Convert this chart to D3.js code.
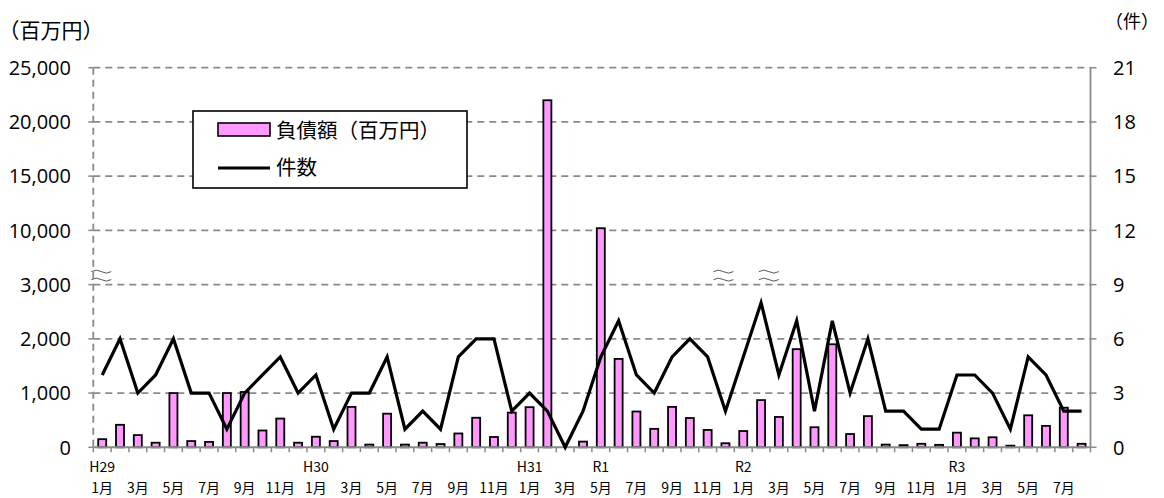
<!DOCTYPE html>
<html>
<head>
<meta charset="utf-8">
<script src="https://cdn.jsdelivr.net/npm/d3@7"></script>
<style>
  body { margin: 0; background: #fff; }
  svg { display: block; }
</style>
</head>
<body>
<svg id="chart" width="1164" height="498"></svg>
<script>
// months H29.1 - R3.8
let months = [
  "1月","2月","3月","4月","5月","6月","7月","8月","9月","10月","11月","12月",
  "1月","2月","3月","4月","5月","6月","7月","8月","9月","10月","11月","12月",
  "1月","2月","3月","4月","5月","6月","7月","8月","9月","10月","11月","12月",
  "1月","2月","3月","4月","5月","6月","7月","8月","9月","10月","11月","12月",
  "1月","2月","3月","4月","5月","6月","7月","8月"
]
let eraLabels = ["H29", "H30", "H31", "R1", "R2", "R3"]
let eraIndex = [0, 12, 24, 28, 36, 48]

// 負債額 (百万円)
let amounts = [
  150, 415, 225, 85, 1000, 115, 100, 1000, 1020, 310, 530, 85,
  195, 115, 745, 50, 620, 50, 85, 60, 255, 545, 190, 640,
  740, 22000, 0, 105, 10200, 1630, 660, 340, 745, 540, 320, 75,
  300, 870, 560, 1810, 370, 1900, 245, 575, 50, 40, 65, 45,
  270, 165, 185, 30, 590, 395, 730, 65
]
// 件数
let counts = [
  4, 6, 3, 4, 6, 3, 3, 1, 3, 4, 5, 3,
  4, 1, 3, 3, 5, 1, 2, 1, 5, 6, 6, 2,
  3, 2, 0, 2, 5, 7, 4, 3, 5, 6, 5, 2,
  5, 8, 4, 7, 2, 7, 3, 6, 2, 2, 1, 1,
  4, 4, 3, 1, 5, 4, 2, 2
]

let leftTicks = [0, 1000, 2000, 3000, 10000, 15000, 20000, 25000]
let rightTicks = [0, 3, 6, 9, 12, 15, 18, 21]

let svg = d3.select("#chart")

let plotLeft = 93.3, plotRight = 1090.5, plotTop = 67.7, plotBottom = 447.3
let gridCol = "#8a8a8a"

let x = d3.scaleBand()
  .domain(d3.range(months.length))
  .range([plotLeft, plotRight])
  .paddingInner(0.55)
  .paddingOuter(0.275)

let yR = d3.scaleLinear().domain([0, 21]).range([plotBottom, plotTop])
// broken left axis: 0-3000 linear, then 3000->10000, then 5000 per step
let yL = d3.scaleLinear()
  .domain([0, 3000, 10000, 25000])
  .range([yR(0), yR(9), yR(12), yR(21)])

let jp = "'Noto Sans CJK JP', sans-serif"
let num = "'Open Sans', sans-serif"

// gridlines
svg.append("g")
  .selectAll("line")
  .data(leftTicks.filter(d => d > 0))
  .enter()
  .append("line")
  .attr("x1", plotLeft).attr("x2", plotRight)
  .attr("y1", d => yL(d)).attr("y2", d => yL(d))
  .attr("stroke", gridCol)
  .attr("stroke-width", 1.8)
  .attr("stroke-dasharray", "7,5")

// left axis (dashed)
svg.append("line")
  .attr("x1", plotLeft).attr("x2", plotLeft)
  .attr("y1", plotTop).attr("y2", plotBottom)
  .attr("stroke", gridCol).attr("stroke-width", 1.8)
  .attr("stroke-dasharray", "7,5")

svg.append("g").selectAll("line")
  .data(leftTicks)
  .enter()
  .append("line")
  .attr("x1", plotLeft - 5).attr("x2", plotLeft)
  .attr("y1", d => yL(d)).attr("y2", d => yL(d))
  .attr("stroke", gridCol).attr("stroke-width", 1.5)

svg.append("g").selectAll("text")
  .data(leftTicks)
  .enter()
  .append("text")
  .attr("x", 71)
  .attr("y", d => yL(d))
  .attr("dy", "0.36em")
  .attr("text-anchor", "end")
  .style("font-family", num)
  .style("font-size", "20px")
  .text(d => d3.format(",")(d))

// right axis
svg.append("line")
  .attr("x1", plotRight).attr("x2", plotRight)
  .attr("y1", plotTop).attr("y2", plotBottom)
  .attr("stroke", gridCol).attr("stroke-width", 1.8)

svg.append("g").selectAll("line")
  .data(rightTicks)
  .enter()
  .append("line")
  .attr("x1", plotRight).attr("x2", plotRight + 6)
  .attr("y1", d => yR(d)).attr("y2", d => yR(d))
  .attr("stroke", gridCol).attr("stroke-width", 1.5)

svg.append("g").selectAll("text")
  .data(rightTicks)
  .enter()
  .append("text")
  .attr("x", 1113)
  .attr("y", d => yR(d))
  .attr("dy", "0.36em")
  .style("font-family", num)
  .style("font-size", "20px")
  .text(d => d)

// bars (skip empty months)
let barData = amounts.map((v, i) => ({v, i})).filter(d => d.v > 0)

svg.append("g")
  .selectAll("rect")
  .data(barData)
  .enter()
  .append("rect")
  .attr("x", d => x(d.i))
  .attr("width", x.bandwidth())
  .attr("y", d => yL(d.v))
  .attr("height", d => yL(0) - yL(d.v))
  .attr("fill", "#ff99ff")
  .attr("stroke", "#000")
  .attr("stroke-width", 1.8)

// bottom axis
svg.append("line")
  .attr("x1", plotLeft).attr("x2", plotRight)
  .attr("y1", plotBottom).attr("y2", plotBottom)
  .attr("stroke", gridCol).attr("stroke-width", 2)

svg.append("g").selectAll("line")
  .data(d3.range(months.length + 1))
  .enter()
  .append("line")
  .attr("x1", i => plotLeft + i * x.step())
  .attr("x2", i => plotLeft + i * x.step())
  .attr("y1", plotBottom).attr("y2", plotBottom + 5)
  .attr("stroke", gridCol).attr("stroke-width", 1.5)

// line
let line = d3.line()
  .x((d, i) => x(i) + x.bandwidth() / 2)
  .y(d => yR(d))

svg.append("path")
  .datum(counts)
  .attr("d", line)
  .attr("fill", "none")
  .attr("stroke", "#000")
  .attr("stroke-width", 3.2)
  .attr("stroke-linejoin", "miter")

// x labels
svg.append("g").selectAll("text")
  .data(months.map((m, i) => ({m, i})).filter(d => d.i % 2 === 0))
  .enter()
  .append("text")
  .attr("x", d => x(d.i) + x.bandwidth() / 2)
  .attr("y", 488)
  .attr("dy", "0.36em")
  .attr("text-anchor", "middle")
  .style("font-family", jp)
  .style("font-size", "14px")
  .text(d => d.m)

svg.append("g").selectAll("text")
  .data(eraLabels)
  .enter()
  .append("text")
  .attr("x", (d, i) => x(eraIndex[i]) + x.bandwidth() / 2)
  .attr("y", 467)
  .attr("dy", "0.36em")
  .attr("text-anchor", "middle")
  .style("font-family", jp)
  .style("font-size", "14px")
  .text(d => d)

// unit titles
svg.append("text")
  .attr("x", -1.5).attr("y", 30).attr("dy", "0.36em")
  .style("font-family", jp).style("font-size", "21px")
  .text("（百万円）")

svg.append("text")
  .attr("x", 1105).attr("y", 22).attr("dy", "0.36em")
  .style("font-family", jp).style("font-size", "18px")
  .text("（件）")

// break marks
function breakMark(cx, cy) {
  let g = svg.append("g").attr("fill", "none").attr("stroke", "#444").attr("stroke-width", 0.9)
  for (let off of [-4, 4]) {
    g.append("path")
      .attr("d", `M${cx - 10},${cy + off + 1} q5,-3 10,0 t10,0`)
  }
}
breakMark(plotLeft + 8, yL(3000) - 10)
breakMark(x(35) + x.bandwidth() / 2 - 2, yL(3000) - 10)
breakMark(x(38) - 6, yL(3000) - 10)

// legend
let lg = svg.append("g")
lg.append("rect")
  .attr("x", 193).attr("y", 111)
  .attr("width", 274).attr("height", 77)
  .attr("fill", "#fff").attr("stroke", "#000").attr("stroke-width", 1.6)
lg.append("rect")
  .attr("x", 218).attr("y", 123)
  .attr("width", 52).attr("height", 13)
  .attr("fill", "#ff99ff").attr("stroke", "#000").attr("stroke-width", 1.6)
lg.append("line")
  .attr("x1", 218).attr("x2", 270)
  .attr("y1", 168).attr("y2", 168)
  .attr("stroke", "#000").attr("stroke-width", 3.2)
lg.append("text")
  .attr("x", 276).attr("y", 131).attr("dy", "0.36em")
  .style("font-family", jp).style("font-size", "20.5px")
  .text("負債額（百万円）")
lg.append("text")
  .attr("x", 276).attr("y", 168).attr("dy", "0.36em")
  .style("font-family", jp).style("font-size", "20.5px")
  .text("件数")
</script>
</body>
</html>
